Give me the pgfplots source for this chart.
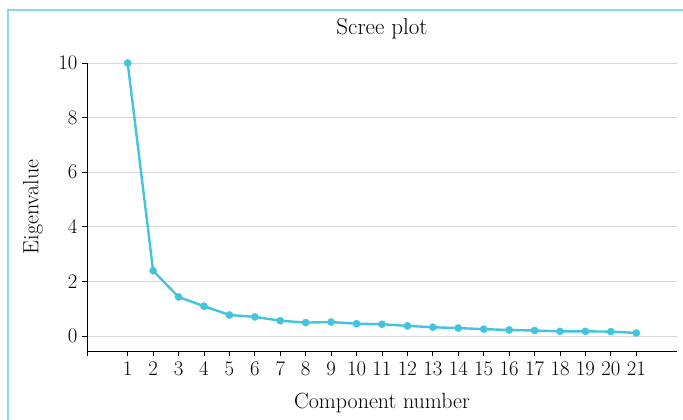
\documentclass[border=0pt]{standalone}
\usepackage{pgfplots}
\pgfplotsset{compat=1.18}
\definecolor{screeline}{RGB}{66,196,221}
\definecolor{frameline}{RGB}{140,218,232}
\definecolor{gridgray}{RGB}{214,214,214}

\begin{document}
\begin{tikzpicture}[x=1pt,y=1pt]
\useasboundingbox (0,0) rectangle (683,420);
\draw[frameline, line width=1.5pt] (8,-20) rectangle (700,410);
\begin{axis}[
  at={(87pt,69pt)}, anchor=south west,
  scale only axis,
  width=590pt, height=288pt,
  xmin=-0.6, xmax=22.6,
  ymin=-0.55, ymax=10,
  axis x line=bottom, axis y line=left,
  axis line style={-, black, line width=0.9pt},
  xtick={1,...,21},
  extra x ticks={-0.6}, extra x tick labels={},
  ytick={0,2,4,6,8,10},
  tick align=outside,
  major tick length=5pt,
  tick style={black, line width=0.9pt},
  ymajorgrids,
  grid style={gridgray, line width=0.9pt},
  ticklabel style={font=\fontsize{20}{20}\selectfont},
  xticklabel style={yshift=-3pt},
  yticklabel style={xshift=-1pt},
  xlabel={Component number},
  ylabel={Eigenvalue},
  label style={font=\fontsize{22}{22}\selectfont},
  xlabel style={at={(axis description cs:0.5,-0.18)}, anchor=center},
  ylabel style={at={(axis description cs:-0.0915,0.5)}, anchor=center},
  title={Scree plot},
  title style={font=\fontsize{23}{23}\selectfont,
    at={(axis description cs:0.5,1.097)}, anchor=center},
  clip=false,
]
\addplot[screeline, line width=2.4pt, mark=*, mark size=3.6pt,
  mark options={fill=screeline, draw=screeline, line width=0.4pt}] coordinates {
  (1,10.00) (2,2.39) (3,1.43) (4,1.09) (5,0.77) (6,0.70) (7,0.56)
  (8,0.49) (9,0.51) (10,0.45) (11,0.43) (12,0.37) (13,0.32) (14,0.29)
  (15,0.25) (16,0.22) (17,0.20) (18,0.17) (19,0.17) (20,0.16) (21,0.11)
};
\end{axis}
\end{tikzpicture}
\end{document}
